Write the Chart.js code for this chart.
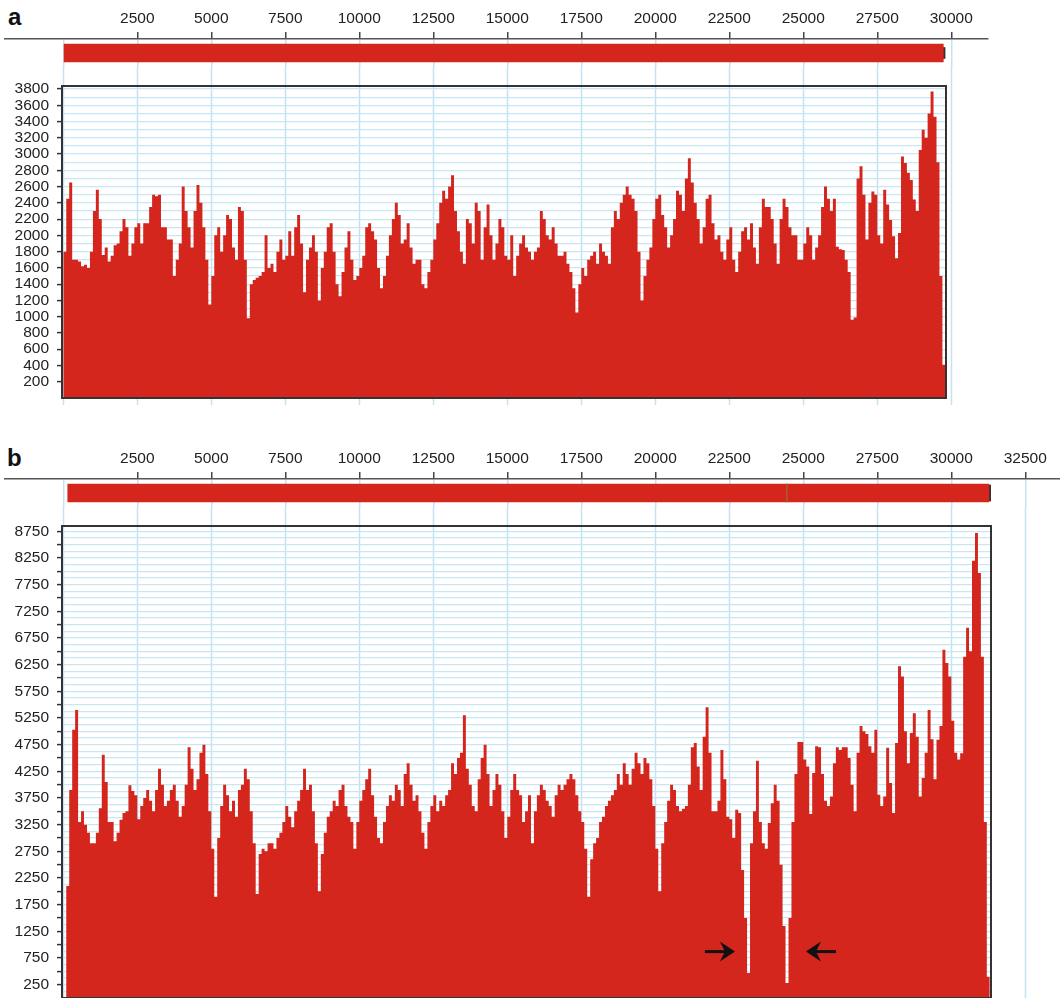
<!DOCTYPE html>
<html>
<head>
<meta charset="utf-8">
<script src="https://cdn.jsdelivr.net/npm/chart.js@4/dist/chart.umd.min.js"></script>
<style>
  html, body { margin:0; padding:0; background:#fff; width:1060px; height:998px; overflow:hidden; }
  canvas { position:absolute; left:0; }
  .lab { position:absolute; font:bold 24px "Liberation Sans", Arial, Helvetica, sans-serif; line-height:24px; color:#111; }
</style>
</head>
<body>
<div class="lab" style="left:8px;top:5px">a</div>
<div class="lab" style="left:7px;top:446px">b</div>
<canvas id="ta" width="1060" height="410" style="top:0px"></canvas>
<canvas id="ca" width="1060" height="348" style="top:68px"></canvas>
<canvas id="tb" width="1060" height="563" style="top:440px"></canvas>
<canvas id="cb" width="1060" height="508" style="top:508px"></canvas>
<script>
// ---------------- DATA ----------------
// genome coordinate tick labels (top axes)
const xTicksA = [2500, 5000, 7500, 10000, 12500, 15000, 17500, 20000, 22500, 25000, 27500, 30000];
const xTicksB = [2500, 5000, 7500, 10000, 12500, 15000, 17500, 20000, 22500, 25000, 27500, 30000, 32500];
// coverage axis labels
const yLabelsA = [200, 400, 600, 800, 1000, 1200, 1400, 1600, 1800, 2000, 2200, 2400, 2600, 2800, 3000, 3200, 3400, 3600, 3800];
const yLabelsB = [250, 750, 1250, 1750, 2250, 2750, 3250, 3750, 4250, 4750, 5250, 5750, 6250, 6750, 7250, 7750, 8250, 8750];
// genome bars (start, end in bases)
const genomeA = [[0, 29730]];
const genomeEndA = [29730, 29790];
const genomeB = [[150, 24420], [24470, 31270]];
const genomeMarkB = [24420, 24470];
const genomeEndB = [31270, 31330];
// coverage, one value per 100-base bin
const binSize = 100;
const coverageA = [
  1800, 2450, 2650, 1700, 1700, 1680, 1620, 1640, 1600, 1800,
  2300, 2560, 2200, 1760, 1850, 1680, 1750, 1880, 1900, 2050,
  2200, 2100, 1750, 1900, 2100, 2150, 1900, 2150, 2150, 2350,
  2500, 2480, 2500, 2100, 2100, 1950, 1950, 1500, 1700, 1900,
  2600, 2300, 2100, 1850, 2300, 2620, 2400, 2100, 1700, 1150,
  1500, 2000, 2100, 1800, 2000, 2250, 2200, 1850, 1700, 2350,
  2300, 1700, 980, 1400, 1450, 1480, 1500, 1550, 2000, 1600,
  1650, 1550, 1800, 1950, 1700, 1750, 2050, 1750, 2100, 2250,
  1900, 1300, 1700, 1850, 2000, 1800, 1200, 1600, 1800, 2100,
  2150, 1800, 1400, 1250, 1550, 1850, 2050, 1700, 1450, 1500,
  1600, 1750, 2100, 2150, 2050, 1950, 1600, 1350, 1500, 1750,
  2000, 2200, 2400, 2250, 1900, 1950, 2150, 1850, 1650, 1700,
  1700, 1400, 1350, 1550, 1700, 1950, 2150, 2400, 2550, 2450,
  2600, 2740, 2300, 2050, 1800, 1650, 2200, 2150, 1900, 2400,
  2300, 1700, 2100, 2380, 2000, 1700, 1900, 2200, 2100, 1750,
  1700, 2000, 1500, 1750, 1900, 2000, 1850, 1800, 1700, 1800,
  1850, 2300, 2200, 2000, 1950, 2100, 1900, 1750, 1750, 1800,
  1650, 1550, 1350, 1050, 1400, 1600, 1500, 1700, 1750, 1800,
  1650, 1900, 1800, 1750, 1650, 2100, 2300, 2200, 2400, 2500,
  2600, 2500, 2450, 2300, 1800, 1200, 1500, 1700, 1850, 2200,
  2450, 2500, 2250, 2100, 1850, 2000, 2200, 2550, 2500, 2300,
  2700, 2950, 2650, 2400, 2200, 1900, 2100, 2450, 2500, 2150,
  1950, 2000, 1800, 1700, 1950, 2100, 1700, 1550, 1800, 2050,
  2100, 1950, 2150, 1850, 1650, 2100, 2450, 2350, 2350, 2200,
  1900, 1650, 2200, 2450, 2350, 2100, 2000, 2000, 1700, 1700,
  1900, 2100, 2000, 1700, 1850, 2000, 2350, 2600, 2450, 2300,
  2450, 1860, 1830, 1820, 1700, 1550, 962, 990, 2700, 2850,
  2500, 1950, 2400, 2540, 2500, 2000, 1900, 2560, 2380, 2190,
  1990, 1720, 2030, 2970, 2890, 2770, 2680, 2440, 2300, 3050,
  3300, 3200, 3500, 3770, 3460, 2900, 1500, 409
];
const coverageB = [
  0, 2100, 3900, 5030, 5400, 3300, 3500, 3250, 3100, 2900,
  2900, 3100, 3560, 4560, 4050, 3300, 3300, 2940, 3100, 3340,
  3470, 3500, 3990, 3880, 3800, 3350, 3600, 3750, 3900, 3700,
  3500, 3900, 4300, 4000, 3600, 3700, 3900, 4000, 3700, 3400,
  3600, 4000, 4700, 4300, 3900, 4100, 4600, 4750, 4200, 3500,
  2800, 1900, 3000, 3600, 4000, 3800, 3500, 3700, 3400, 3900,
  4000, 4300, 4100, 3500, 2900, 1950, 2700, 2800, 2750, 2900,
  2900, 2800, 3000, 3100, 3300, 3600, 3400, 3200, 3500, 3700,
  3900, 4300, 3900, 4000, 3500, 2900, 2000, 2700, 3100, 3400,
  3500, 3700, 3600, 3900, 4000, 3600, 3400, 3300, 2800, 3300,
  3700, 3900, 4100, 4300, 3800, 3400, 3000, 2900, 3300, 3600,
  3800, 3700, 4000, 3900, 3600, 4200, 4400, 4000, 3700, 3800,
  3500, 3100, 2800, 3300, 3600, 3800, 3500, 3700, 3600, 3800,
  3900, 4400, 4200, 4500, 4600, 5300, 4300, 4000, 3600, 3500,
  4100, 4500, 4750, 4200, 3600, 3900, 4200, 4000, 3500, 3000,
  3400, 3900, 4200, 3900, 3800, 3300, 3500, 3800, 2900, 3500,
  3800, 4000, 3900, 3700, 3600, 3400, 3800, 4000, 3900, 4000,
  4100, 4200, 4100, 3800, 3500, 3300, 2800, 1900, 2600, 2900,
  3000, 3300, 3400, 3600, 3700, 3800, 3900, 4200, 4000, 4400,
  4200, 4000, 4300, 4600, 4400, 4200, 4500, 4400, 4100, 3600,
  2800, 2000, 2900, 3300, 3700, 4000, 3900, 3600, 3500, 3550,
  3600, 4000, 4700, 4780, 4340, 3900, 4900, 5450, 4600, 3500,
  3500, 3700, 4650, 4100, 3400, 3350, 3000, 3530, 3470, 2400,
  1500, 470, 2900, 3500, 4450, 3300, 2900, 2800, 3280, 3650,
  4000, 3700, 2500, 1350, 280, 1500, 3300, 4200, 4800, 4800,
  4470, 4340, 3450, 4220, 4720, 4700, 4200, 3700, 3600, 3780,
  4400, 4700, 4650, 4700, 4700, 4500, 4000, 3500, 4600, 5100,
  5000, 4950, 4720, 4600, 5030, 3810, 3600, 3780, 4690, 4030,
  3470, 4780, 6220, 6030, 5000, 4400, 4970, 5340, 4900, 3780,
  4125, 4600, 5400, 4850, 4100, 4840, 5100, 6530, 6280, 6030,
  5200, 4600, 4470, 4590, 6400, 6940, 6500, 8200, 8720, 7970,
  6400, 3300, 400
];
// arrow annotations in panel b (genome position, coverage level, direction)
const arrowsB = [
  { pos: 22690, cov: 870, dir: 1 },
  { pos: 25090, cov: 870, dir: -1 }
];

// ---------------- STYLE / LAYOUT ----------------
const FONT = '"Liberation Sans", Arial, Helvetica, sans-serif';
const RED = '#d4261c';
const GRID_V = '#c3e3f3';
const GRID_H = '#c8e7f5';
const AXIS = '#444';
const PX_PER_BASE = 0.0296;
const ZERO_PX = 63.3;
const PAD_V = 18;
Chart.defaults.font.family = FONT;

function rangeFor(left, right) {
  return { min: (left - ZERO_PX) / PX_PER_BASE, max: (right - ZERO_PX) / PX_PER_BASE };
}

const framePlugin = {
  id: 'frame',
  afterDatasetsDraw(chart) {
    const a = chart.chartArea, ctx = chart.ctx;
    ctx.save();
    ctx.strokeStyle = '#333';
    ctx.lineWidth = 2;
    ctx.strokeRect(a.left, a.top, a.right - a.left, a.bottom - a.top);
    ctx.restore();
  }
};

const arrowPlugin = {
  id: 'arrows',
  afterDatasetsDraw(chart, args, opts) {
    const items = (opts && opts.items) || [];
    const ctx = chart.ctx, xs = chart.scales.x, ys = chart.scales.y;
    ctx.save();
    ctx.fillStyle = '#111';
    ctx.strokeStyle = '#111';
    ctx.lineWidth = 3;
    items.forEach(a => {
      const tx = xs.getPixelForValue(a.pos), ty = ys.getPixelForValue(a.cov), d = a.dir;
      ctx.beginPath();
      ctx.moveTo(tx - d * 30, ty);
      ctx.lineTo(tx - d * 8, ty);
      ctx.stroke();
      ctx.beginPath();
      ctx.moveTo(tx, ty);
      ctx.lineTo(tx - d * 15, ty - 10);
      ctx.lineTo(tx - d * 10, ty);
      ctx.lineTo(tx - d * 15, ty + 10);
      ctx.closePath();
      ctx.fill();
    });
    ctx.restore();
  }
};

function makeTop(id, cfg) {
  const r = rangeFor(cfg.left, cfg.right);
  const tickVals = [0].concat(cfg.ticks);
  const setTicks = s => { s.ticks = tickVals.map(v => ({ value: v })); };
  new Chart(document.getElementById(id), {
    type: 'bar',
    data: { labels: ['genome'], datasets: cfg.datasets },
    options: {
      indexAxis: 'y',
      responsive: false,
      animation: false,
      devicePixelRatio: 1,
      layout: { padding: { left: cfg.left, right: 1060 - cfg.right, top: 0, bottom: 5 } },
      plugins: { legend: { display: false }, tooltip: { enabled: false } },
      datasets: { bar: { grouped: false, barThickness: 18, borderWidth: 0 } },
      scales: {
        x: {
          type: 'linear', position: 'top', min: r.min, max: r.max,
          afterBuildTicks: setTicks,
          afterFit: s => { s.height = 39; },
          ticks: {
            autoSkip: false, maxRotation: 0, padding: 4, color: '#222',
            font: { family: FONT, size: 15.5 },
            callback: v => (v === 0 ? '' : String(v))
          },
          grid: {
            color: GRID_V, lineWidth: 1.5, tickLength: 7, tickWidth: 1.5,
            tickColor: c => (c.tick && c.tick.value === 0 ? 'rgba(0,0,0,0)' : AXIS)
          },
          border: { color: '#555', width: 1.5 }
        },
        xg: {
          type: 'linear', position: 'bottom', min: r.min, max: r.max,
          afterBuildTicks: setTicks,
          afterFit: s => { s.height = cfg.drop; },
          ticks: { display: false },
          grid: { drawOnChartArea: false, tickLength: cfg.drop, tickColor: GRID_V, tickWidth: 1.5 },
          border: { display: false }
        },
        y: { type: 'category', display: false, offset: true }
      }
    }
  });
}

function makeCoverage(id, cfg) {
  const r = rangeFor(cfg.left, cfg.right);
  const pts = cfg.values.map((v, i) => ({ x: i * binSize, y: v }));
  pts.push({ x: cfg.values.length * binSize, y: 0 });
  const buildY = s => {
    const t = [];
    for (let v = 0; v <= cfg.ymax; v += cfg.gridStep) t.push({ value: v });
    s.ticks = t;
  };
  new Chart(document.getElementById(id), {
    type: 'line',
    data: {
      datasets: [{
        data: pts, stepped: true, fill: 'origin',
        backgroundColor: RED, borderColor: RED, borderWidth: 0, pointRadius: 0
      }]
    },
    options: {
      responsive: false,
      animation: false,
      devicePixelRatio: 1,
      parsing: false,
      layout: { padding: { left: 0, right: 1060 - cfg.right, top: PAD_V, bottom: PAD_V } },
      plugins: {
        legend: { display: false }, tooltip: { enabled: false },
        arrows: { items: cfg.arrows || [] }
      },
      scales: {
        x: { type: 'linear', display: false, min: r.min, max: r.max },
        y: {
          type: 'linear', min: 0, max: cfg.ymax,
          afterBuildTicks: buildY,
          afterFit: s => { s.width = cfg.left; },
          ticks: {
            autoSkip: false, padding: 8, color: '#222',
            font: { family: FONT, size: 15.5 },
            callback: v => (cfg.labels.includes(v) ? String(v) : '')
          },
          grid: {
            color: GRID_H, lineWidth: 1.2, tickLength: 5, tickWidth: 1.5,
            tickColor: c => (c.tick && c.tick.value > 0 && c.tick.value % cfg.tickStep === 0 ? '#333' : 'rgba(0,0,0,0)')
          },
          border: { color: '#333', width: 2 }
        }
      }
    },
    plugins: [framePlugin, arrowPlugin]
  });
}

// ---------------- PANEL A ----------------
makeTop('ta', {
  left: 5, right: 988, drop: 338, ticks: xTicksA,
  datasets: [
    { data: genomeA, backgroundColor: RED },
    { data: [genomeEndA], backgroundColor: '#333', barThickness: 11 }
  ]
});
makeCoverage('ca', {
  left: 62, right: 946, ymax: 3837, gridStep: 100, tickStep: 200,
  labels: yLabelsA, values: coverageA
});

// ---------------- PANEL B ----------------
makeTop('tb', {
  left: 5, right: 1060, drop: 491, ticks: xTicksB,
  datasets: [
    { data: [genomeB[0]], backgroundColor: RED },
    { data: [genomeB[1]], backgroundColor: RED },
    { data: [genomeMarkB], backgroundColor: '#7d8a2c' },
    { data: [genomeEndB], backgroundColor: '#333', barThickness: 16 }
  ]
});
makeCoverage('cb', {
  left: 62, right: 991, ymax: 8850, gridStep: 125, tickStep: 250,
  labels: yLabelsB, values: coverageB, arrows: arrowsB
});
</script>
</body>
</html>
